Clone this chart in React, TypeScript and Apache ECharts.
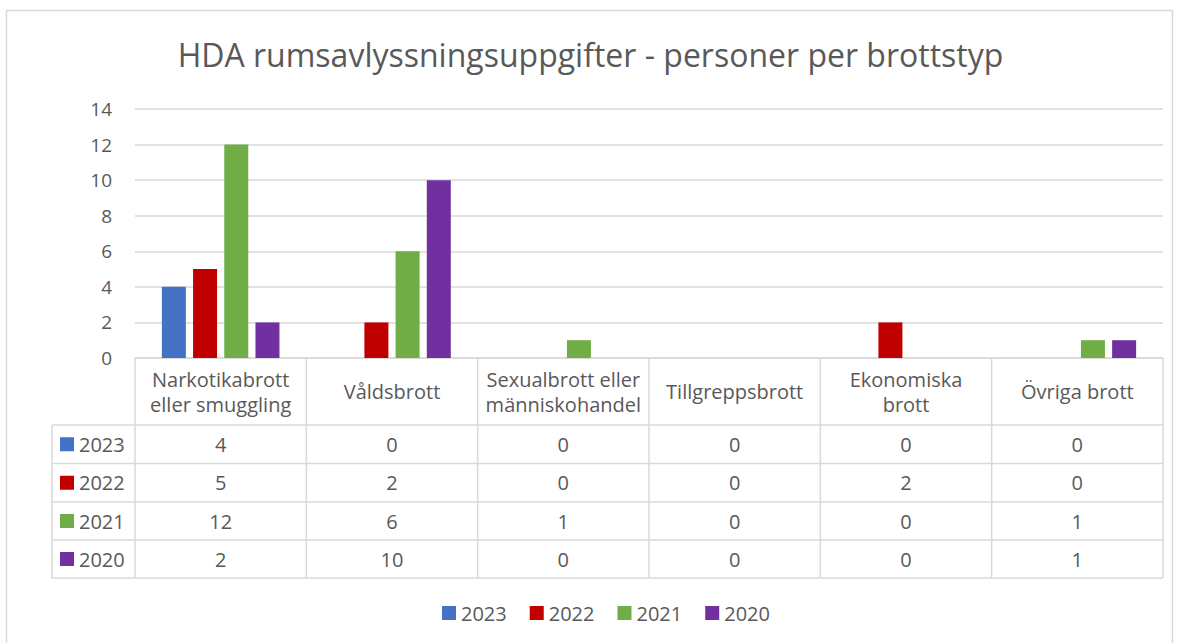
import React, { useEffect, useRef } from "react";
import * as echarts from "echarts";

const title = "HDA rumsavlyssningsuppgifter - personer per brottstyp";
const categories = [
  "Narkotikabrott\neller smuggling",
  "Våldsbrott",
  "Sexualbrott eller\nmänniskohandel",
  "Tillgreppsbrott",
  "Ekonomiska\nbrott",
  "Övriga brott",
];
const years = ["2023", "2022", "2021", "2020"];
const v2023 = [4, 0, 0, 0, 0, 0];
const v2022 = [5, 2, 0, 0, 2, 0];
const v2021 = [12, 6, 1, 0, 0, 1];
const v2020 = [2, 10, 0, 0, 0, 1];
const seriesValues = [v2023, v2022, v2021, v2020];
const colors = ["#4472C4", "#C00000", "#70AD47", "#7030A0"];

const FONT = "'Open Sans', sans-serif";
const TXT = "#595959";
const LINE = "#d9d9d9";

export default function App() {
  const ref = useRef<HTMLDivElement>(null);
  useEffect(() => {
    document.body.style.margin = "0";
    const chart = echarts.init(ref.current!, undefined, { renderer: "svg" });
    const W = 1181;
    const gridLeft = 135;
    const gridRight = 1163;
    const gridTop = 109;
    const gridBottomY = 358;
    const colW = (gridRight - gridLeft) / categories.length;
    const headerBottom = 425;
    const rowYs = [425, 463.5, 502, 540, 578];
    const tableLeft = 52;

    const graphics: any[] = [];
    graphics.push({
      type: "rect",
      shape: { x: 6.5, y: 10.5, width: 1166, height: 650 },
      style: { fill: "none", stroke: LINE, lineWidth: 1.5 },
      silent: true,
    });
    rowYs.forEach((y) => {
      graphics.push({
        type: "line",
        shape: { x1: tableLeft, y1: y, x2: gridRight, y2: y },
        style: { stroke: LINE, lineWidth: 1.5 },
      });
    });
    for (let i = 0; i <= categories.length; i++) {
      const x = gridLeft + i * colW;
      graphics.push({
        type: "line",
        shape: { x1: x, y1: gridBottomY, x2: x, y2: rowYs[rowYs.length - 1] },
        style: { stroke: LINE, lineWidth: 1.5 },
      });
    }
    graphics.push({
      type: "line",
      shape: { x1: tableLeft, y1: rowYs[0], x2: tableLeft, y2: rowYs[rowYs.length - 1] },
      style: { stroke: LINE, lineWidth: 1.5 },
    });
    categories.forEach((c, i) => {
      graphics.push({
        type: "text",
        x: gridLeft + (i + 0.5) * colW,
        y: (gridBottomY + headerBottom) / 2,
        style: {
          text: c,
          fill: TXT,
          font: `20px ${FONT}`,
          align: "center",
          verticalAlign: "middle",
          lineHeight: 25,
        },
      });
    });
    years.forEach((yr, r) => {
      const cy = (rowYs[r] + rowYs[r + 1]) / 2;
      graphics.push({
        type: "rect",
        shape: { x: 60, y: cy - 7, width: 14, height: 14 },
        style: { fill: colors[r] },
      });
      graphics.push({
        type: "text",
        x: 79,
        y: cy,
        style: { text: yr, fill: TXT, font: `20px ${FONT}`, align: "left", verticalAlign: "middle" },
      });
      seriesValues[r].forEach((v, i) => {
        graphics.push({
          type: "text",
          x: gridLeft + (i + 0.5) * colW,
          y: cy,
          style: { text: String(v), fill: TXT, font: `20px ${FONT}`, align: "center", verticalAlign: "middle" },
        });
      });
    });

    chart.setOption({
      animation: false,
      title: {
        text: title,
        left: "center",
        top: 33,
        textStyle: { fontFamily: FONT, fontSize: 32, fontWeight: "normal", color: TXT },
      },
      legend: {
        bottom: 15,
        left: 437,
        icon: "rect",
        itemWidth: 14,
        itemHeight: 14,
        itemGap: 23,
        textStyle: { fontFamily: FONT, fontSize: 20, color: TXT },
        data: years,
      },
      grid: { left: gridLeft, right: W - gridRight, top: gridTop, bottom: 643 - gridBottomY },
      xAxis: {
        type: "category",
        data: categories,
        axisLine: { show: true, lineStyle: { color: LINE, width: 1.5 } },
        axisTick: { show: false },
        axisLabel: { show: false },
      },
      yAxis: {
        type: "value",
        min: 0,
        max: 14,
        interval: 2,
        axisLine: { show: false },
        axisTick: { show: false },
        splitLine: { lineStyle: { color: LINE, width: 1.5 } },
        axisLabel: { color: TXT, fontFamily: FONT, fontSize: 19, margin: 23 },
      },
      series: years.map((yr, i) => ({
        name: yr,
        type: "bar",
        data: seriesValues[i],
        barWidth: 24,
        barGap: "30%",
        itemStyle: { color: colors[i] },
      })),
      graphic: graphics,
    });
    return () => chart.dispose();
  }, []);
  return <div ref={ref} style={{ width: 1181, height: 643 }} />;
}
